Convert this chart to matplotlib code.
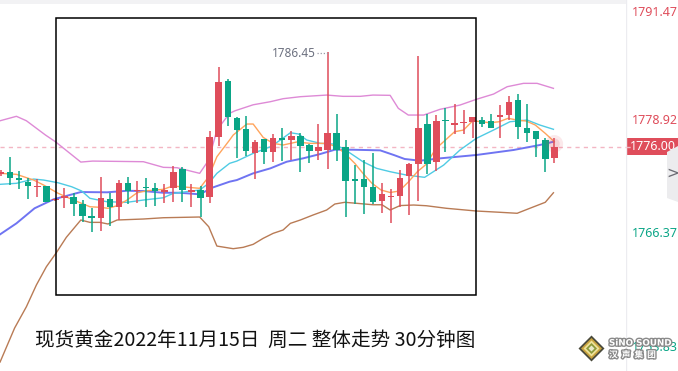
import matplotlib
matplotlib.use("Agg")
import matplotlib.pyplot as plt
import matplotlib.patheffects as pe
from matplotlib.patches import Rectangle, Polygon
import numpy as np

plt.rcParams['font.family'] = ['Noto Sans CJK SC', 'DejaVu Sans']

# ---------------- data ----------------
opens = [1772.94, 1773.16, 1772.42, 1772.12, 1771.49, 1771.65, 1770.09, 1770.38, 1770.44, 1769.67,
         1768.31, 1768.16, 1770.19, 1769.37, 1771.98, 1771.07, 1771.49, 1771.40, 1770.96, 1771.38,
         1773.49, 1771.04, 1771.21, 1770.47, 1777.08, 1783.22, 1779.17, 1777.93, 1775.32, 1776.79,
         1775.43, 1776.94, 1776.72, 1777.16, 1776.17, 1775.54, 1775.62, 1777.49, 1775.95, 1772.30,
         1772.42, 1771.51, 1770.00, 1770.47, 1770.58, 1772.75, 1774.07, 1778.48, 1774.33, 1778.83,
         1778.42, 1778.56, 1778.70, 1778.92, 1778.81, 1779.28, 1779.44, 1781.12, 1778.04, 1777.71,
         1776.72, 1774.77]
highs = [1773.41, 1774.81, 1773.30, 1772.57, 1772.42, 1771.70, 1770.20, 1771.46, 1770.91, 1770.11,
         1769.26, 1772.61, 1770.85, 1772.31, 1772.64, 1772.20, 1772.53, 1771.98, 1771.87, 1773.82,
         1773.74, 1771.87, 1771.65, 1777.71, 1784.79, 1783.44, 1779.28, 1779.36, 1776.72, 1776.85,
         1777.41, 1778.04, 1777.74, 1777.46, 1776.28, 1778.48, 1786.45, 1779.58, 1776.72, 1774.00,
         1774.51, 1775.32, 1771.98, 1771.32, 1773.41, 1774.22, 1785.97, 1779.58, 1779.47, 1780.21,
         1780.65, 1780.02, 1779.25, 1779.22, 1779.58, 1780.57, 1781.56, 1781.78, 1780.68, 1777.75,
         1776.90, 1776.90]
lows = [1772.75, 1771.73, 1771.29, 1770.19, 1770.41, 1769.88, 1770.05, 1769.26, 1768.35, 1767.69,
        1766.55, 1766.73, 1767.28, 1767.91, 1769.67, 1769.81, 1769.37, 1769.48, 1769.78, 1769.92,
        1769.92, 1769.37, 1768.27, 1769.81, 1776.06, 1778.26, 1774.74, 1774.96, 1772.42, 1774.07,
        1774.26, 1774.44, 1774.48, 1773.19, 1774.22, 1774.55, 1773.52, 1774.40, 1768.27, 1769.67,
        1768.57, 1769.67, 1768.64, 1767.61, 1769.37, 1768.51, 1770.00, 1772.97, 1773.34, 1775.36,
        1777.35, 1777.35, 1776.97, 1778.18, 1778.05, 1776.97, 1778.92, 1776.86, 1776.46, 1774.88,
        1773.23, 1774.22]
closes = [1773.23, 1772.57, 1772.37, 1771.68, 1771.53, 1769.92, 1770.13, 1770.42, 1769.70, 1768.38,
          1768.13, 1770.30, 1769.37, 1771.98, 1771.13, 1771.13, 1771.45, 1771.13, 1771.21, 1773.19,
          1771.16, 1771.10, 1770.38, 1777.05, 1783.10, 1779.28, 1777.82, 1775.51, 1776.46, 1775.43,
          1776.94, 1776.68, 1777.16, 1776.09, 1775.54, 1775.95, 1777.49, 1775.62, 1772.24, 1772.26,
          1771.57, 1769.86, 1770.77, 1770.58, 1772.53, 1774.07, 1778.04, 1774.07, 1778.81, 1778.78,
          1778.47, 1778.70, 1779.22, 1778.45, 1778.07, 1779.44, 1780.90, 1778.18, 1777.52, 1776.79,
          1774.66, 1776.00]

# indicator lines (bar position, price)
boll_up_x = [-0.1, 1.7, 2.8, 4.9, 6.0, 8.8, 10.1, 15.7, 17.9, 19.4, 21.9, 22.9, 23.8, 25.2, 25.8, 27.8,
             29.7, 31.1, 33.0, 35.9, 37.7, 39.6, 41.0, 42.9, 43.8, 44.9, 46.6, 48.4, 50.6, 52.4, 54.3,
             55.8, 57.6, 59.1, 60.9]
boll_up_y = [1778.84, 1779.33, 1778.84, 1777.27, 1776.53, 1774.29, 1774.40, 1774.33, 1773.71, 1773.67,
             1773.05, 1774.51, 1777.82, 1779.66, 1779.94, 1780.60, 1780.94, 1781.27, 1781.49, 1781.67,
             1781.53, 1781.53, 1781.67, 1781.64, 1780.21, 1779.47, 1779.47, 1780.10, 1780.57, 1781.20,
             1781.78, 1782.59, 1782.96, 1782.96, 1782.41]
boll_dn_x = [-0.1, 0.7, 1.5, 2.8, 3.9, 5.0, 6.1, 7.2, 8.8, 9.8, 10.9, 11.8, 12.8, 15.7, 17.9, 21.9, 22.9,
             23.8, 25.6, 26.7, 27.8, 28.9, 30.0, 31.1, 31.9, 33.0, 34.4, 35.9, 36.8, 37.9, 39.2, 41.0,
             42.0, 42.9, 44.0, 45.5, 46.9, 49.1, 52.4, 55.0, 56.9, 58.3, 60.0, 60.9]
boll_dn_y = [1752.27, 1754.14, 1756.01, 1758.36, 1760.75, 1762.76, 1764.31, 1766.00, 1767.91, 1767.65,
             1767.65, 1767.47, 1767.91, 1768.02, 1768.16, 1768.24, 1767.17, 1765.04, 1764.75, 1764.90,
             1765.23, 1765.89, 1766.44, 1766.81, 1767.54, 1767.91, 1768.46, 1769.01, 1769.67, 1769.86,
             1769.75, 1769.59, 1769.59, 1769.01, 1769.50, 1769.56, 1769.48, 1769.20, 1768.90, 1768.76,
             1768.65, 1769.20, 1769.86, 1770.91]
ma_slow_x = [-0.1, 1.7, 3.7, 5.8, 8.8, 11.7, 13.9, 15.7, 17.9, 19.7, 21.9, 23.4, 25.2, 26.0, 27.8, 29.7,
             31.5, 33.3, 35.2, 36.8, 38.8, 41.8, 43.3, 44.5, 46.2, 48.4, 52.4, 56.5, 59.4, 60.9]
ma_slow_y = [1766.33, 1767.54, 1769.20, 1770.19, 1770.99, 1770.96, 1771.13, 1771.10, 1770.91, 1770.91,
             1770.74, 1771.51, 1772.13, 1772.31, 1773.05, 1773.60, 1774.33, 1774.70, 1775.18, 1775.65,
             1775.65, 1775.58, 1775.07, 1774.63, 1774.44, 1774.70, 1775.07, 1775.62, 1776.17, 1776.53]
ma_mid_x = [-0.1, 1.7, 3.6, 4.7, 6.3, 7.8, 8.9, 9.8, 11.7, 13.9, 15.7, 17.9, 19.0, 21.9, 22.9, 23.8,
            25.2, 26.0, 27.8, 29.7, 30.8, 31.9, 32.8, 33.7, 35.2, 36.6, 37.7, 38.8, 39.9, 41.4, 42.9,
            44.7, 46.7, 48.8, 50.6, 52.4, 54.3, 56.1, 58.0, 59.4, 60.9]
ma_mid_y = [1771.84, 1771.95, 1772.42, 1772.31, 1772.01, 1771.57, 1771.10, 1770.30, 1769.92, 1769.86,
            1770.11, 1770.36, 1770.85, 1771.21, 1771.95, 1773.05, 1774.15, 1774.40, 1775.25, 1775.98,
            1776.72, 1777.52, 1777.38, 1776.72, 1776.35, 1776.28, 1775.80, 1775.07, 1774.33, 1773.60,
            1773.23, 1772.86, 1772.61, 1773.96, 1775.62, 1776.90, 1777.82, 1778.73, 1778.92, 1778.37,
            1777.90]
ma_fast_x = [-0.1, 1.7, 3.6, 4.7, 6.3, 7.8, 9.8, 10.9, 11.8, 12.8, 13.9, 15.0, 16.1, 17.9, 18.9, 19.9,
             21.9, 22.9, 23.8, 25.2, 25.6, 27.1, 27.8, 28.9, 30.0, 31.1, 32.6, 34.1, 35.9, 37.0, 37.9,
             39.0, 39.9, 40.9, 41.9, 42.9, 43.9, 44.9, 45.9, 46.9, 47.9, 49.0, 50.0, 51.0, 52.0, 53.0,
             53.9, 54.9, 55.9, 56.9, 57.9, 58.9, 60.0, 61.0]
ma_fast_y = [1773.05, 1772.94, 1772.31, 1771.76, 1770.85, 1770.19, 1769.37, 1769.31, 1769.20, 1769.48,
             1770.11, 1770.91, 1771.13, 1771.29, 1771.65, 1771.57, 1771.40, 1772.68, 1774.88, 1776.72,
             1777.27, 1778.48, 1778.48, 1777.01, 1776.35, 1776.17, 1776.50, 1776.35, 1776.35, 1775.98,
             1775.25, 1774.15, 1773.05, 1771.95, 1771.21, 1770.94, 1771.10, 1772.09, 1773.23, 1774.07,
             1775.73, 1776.72, 1777.63, 1777.82, 1778.84, 1778.73, 1778.62, 1778.73, 1779.11, 1778.92,
             1778.81, 1778.37, 1777.45, 1776.53]

axis_labels = [1791.47, 1778.92, 1766.37, 1753.83]
last_price = 1776.00
peak_label = "1786.45"
title = "现货黄金2022年11月15日  周二 整体走势 30分钟图"

UP = '#df4d5b'
DOWN = '#0aa586'

# ---------------- figure ----------------
W, H = 678, 371
fig = plt.figure(figsize=(W / 100, H / 100), dpi=100)
fig.patch.set_facecolor('white')

def fx(px):
    return px / W

def fy(py):
    return 1 - py / H

ax = fig.add_axes([0, 0, fx(626), 1])
ax.set_xlim(-0.11, 68.9)
ax.set_ylim(1751.28, 1792.14)
ax.axis('off')

# top grey strip
fig.patches.append(Rectangle((0, fy(4)), fx(626), 4 / H, transform=fig.transFigure,
                             facecolor='#f2f2f4', edgecolor='none', zorder=0))

# dashed current price line
ax.axhline(last_price, color='#f3b6c3', lw=1.0, ls=(0, (3, 3)), zorder=1)

# indicator lines
ax.plot(boll_up_x, boll_up_y, color='#de8ad6', lw=1.0, zorder=2)
ax.plot(boll_dn_x, boll_dn_y, color='#b97b55', lw=1.0, zorder=2)
ax.plot(ma_slow_x, ma_slow_y, color='#6f74f2', lw=1.4, zorder=2)
ax.plot(ma_mid_x, ma_mid_y, color='#4fcbe4', lw=1.0, zorder=2)
ax.plot(ma_fast_x, ma_fast_y, color='#ffa45c', lw=1.0, zorder=2)

# candles
o = np.array(opens); h = np.array(highs); l = np.array(lows); c = np.array(closes)
x = np.arange(len(o))
cols = [UP if cc > oo else DOWN for oo, cc in zip(o, c)]
ax.vlines(x, l, h, colors=cols, lw=1.1, zorder=3)
bottoms = np.minimum(o, c)
heights = np.maximum(np.abs(c - o), 0.12)
ax.bar(x, heights, bottom=bottoms, width=0.72, color=cols, edgecolor='none', zorder=4)

# glow on last candle
ax.scatter([x[-1]], [last_price + 0.3], s=160, color=UP, alpha=0.12, edgecolors='none', zorder=5)
ax.scatter([x[-1]], [last_price + 0.3], s=60, color=UP, alpha=0.15, edgecolors='none', zorder=5)

# peak annotation
ipk = int(np.argmax(h))
ax.hlines(h[ipk] - 0.15, ipk - 1.2, ipk, colors='#9a9aa6', lw=0.9, linestyles=(0, (1, 1.5)), zorder=3)
ax.text(ipk - 1.3, h[ipk] - 0.2, peak_label, ha='right', va='center', fontsize=8.5,
        color='#6d7180', family=['Noto Sans', 'DejaVu Sans'])

# black rectangle
fig.patches.append(Rectangle((fx(56), fy(295)), fx(476) - fx(56), fy(18) - fy(295),
                             transform=fig.transFigure, fill=False, edgecolor='black', lw=1.1, zorder=10))

# right price panel
ax2 = fig.add_axes([fx(626), 0, 1 - fx(626), 1])
ax2.set_xlim(0, 1)
ax2.set_ylim(ax.get_ylim())
ax2.axis('off')
ax2.axvline(0.0, color='#ececf0', lw=1.0)
ax2.axhline(last_price, xmax=0.1, color='#f3b6c3', lw=1.0, ls=(0, (3, 3)))
lab_font = ['Noto Sans', 'DejaVu Sans']
for i, v in enumerate(axis_labels):
    col = UP if v > last_price else DOWN
    yv = v if i > 0 else v - 0.75
    ax2.text(0.12, yv, f"{v:.2f}", ha='left', va='center', fontsize=9, color=col, family=lab_font)
ax2.add_patch(Rectangle((0.0, last_price - 0.95), 1.0, 1.9, facecolor=UP, edgecolor='none'))
ax2.text(0.08, last_price, f"{last_price:.2f}", ha='left', va='center', fontsize=9,
         color='white', family=lab_font)

# side tab
fig.patches.append(Polygon([(fx(667), fy(152)), (fx(678), fy(146)), (fx(678), fy(202)), (fx(667), fy(198))],
                           closed=True, transform=fig.transFigure, facecolor='#ececee', edgecolor='none', zorder=6))
fig.text(fx(673), fy(173), '>', ha='center', va='center', fontsize=11, color='#6a6a72', zorder=7,
         family=['DejaVu Sans'])

# title
fig.text(fx(35), fy(340), title, ha='left', va='center', fontsize=14.1, color='#111111')

# logo
cxl, cyl = 591.5, 348.5
for r, colr in [(13, '#4a4a3c'), (10.5, '#c9a43e'), (8, '#efe29a'), (5.5, '#8c9a3a'), (3, '#e8e8c8')]:
    fig.patches.append(Polygon([(fx(cxl - r), fy(cyl)), (fx(cxl), fy(cyl - r)), (fx(cxl + r), fy(cyl)),
                                (fx(cxl), fy(cyl + r))], closed=True, transform=fig.transFigure,
                               facecolor=colr, edgecolor='none', zorder=12))
fig.text(fx(609), fy(343), 'SiNO SOUND', ha='left', va='center', fontsize=6.3, fontweight='bold',
         color='white', zorder=13, family=['DejaVu Sans'],
         path_effects=[pe.withStroke(linewidth=2, foreground='#8a8a8a')])
fig.text(fx(609), fy(355), '汉  声  集  团', ha='left', va='center', fontsize=6.3, fontweight='bold',
         color='white', zorder=13,
         path_effects=[pe.withStroke(linewidth=2, foreground='#8a8a8a')])

fig.savefig('out.png', dpi=100)
